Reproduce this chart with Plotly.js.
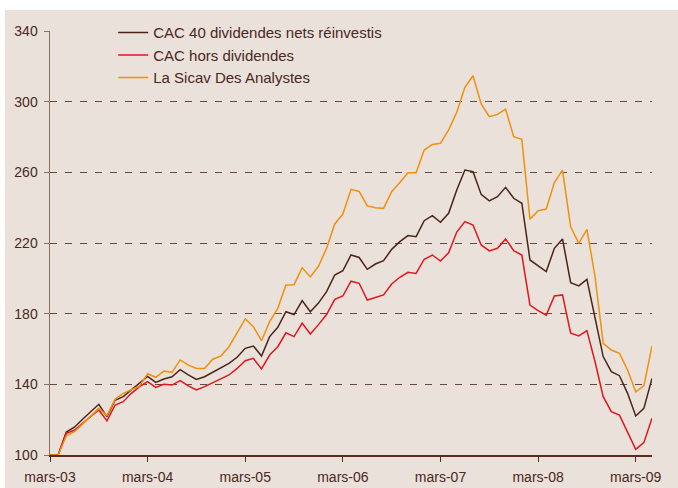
<!DOCTYPE html>
<html>
<head>
<meta charset="utf-8">
<script src="https://cdn.plot.ly/plotly-3.0.1.min.js"></script>
<style>
  html, body { margin: 0; padding: 0; background: #ffffff; width: 678px; height: 488px; overflow: hidden; }
  #chart { position: absolute; left: 5px; top: 10px; width: 673px; height: 478px; }
</style>
</head>
<body>
<div id="chart"></div>
<script>
// Month names (French, Excel style) and the span of the series
const monthNames = ["janv.", "févr.", "mars", "avr.", "mai", "juin", "juil.", "août", "sept.", "oct.", "nov.", "déc."];
const startYear = 2003, startMonth = 2, nMonths = 75; // mars-03 .. mai-09
const categories = [];
for (let i = 0; i < nMonths; i++) {
  const m = (startMonth + i) % 12;
  const y = startYear + Math.floor((startMonth + i) / 12);
  categories.push(monthNames[m] + "-" + String(y % 100).padStart(2, "0"));
}
const tickLabels = ["mars-03", "mars-04", "mars-05", "mars-06", "mars-07", "mars-08", "mars-09"];
const yTicks = [100, 140, 180, 220, 260, 300, 340];

const seriesNames = ["CAC 40 dividendes nets réinvestis", "CAC hors dividendes", "La Sicav Des Analystes"];

const cacDividendes = [
  100, 100, 113, 115.7, 120.2, 124.3, 128.7, 121.7, 131, 133, 137, 140.6,
  144.5, 141.1, 143, 144.3, 148.3, 145.3, 142.8, 144.3, 146.8, 149, 151.9, 155.3,
  160.4, 161.7, 156, 167, 172.3, 181.1, 179.5, 187.4, 181.1, 186, 192.5, 201.9,
  204.3, 213.2, 211.8, 205.1, 208.1, 210, 216.4, 220.8, 224.2, 223.6, 232.6, 235.5,
  231.7, 236.8, 250, 261.3, 260.4, 247.5, 243.8, 246.2, 251.5, 245.3, 242.5, 210.4,
  207.2, 203.8, 217, 222.3, 197.5, 195.7, 199.4, 178.3, 155.7, 147.2, 144.9, 134.9,
  122.1, 126.4, 143.4
];
const cacHorsDividendes = [
  100, 100, 112.3, 114, 118, 121.7, 125.5, 119.3, 128.3, 130.2, 134.9, 138.7,
  141.5, 138.3, 140, 139.6, 142.1, 139.1, 136.8, 138.7, 140.9, 142.8, 145.3, 149,
  153.4, 154.7, 148.7, 156.6, 161.3, 169.2, 167, 174.7, 168.5, 173.8, 179.5, 188.1,
  190, 198.4, 197.2, 187.7, 189.2, 190.6, 196.8, 200.6, 203.4, 202.8, 210.8, 213.2,
  209.8, 214.5, 226.2, 232.1, 230.2, 218.9, 215.5, 217, 222.3, 215.7, 213.2, 184.9,
  181.7, 179.2, 190, 190.6, 168.9, 167.4, 170.4, 152.8, 133, 124.5, 122.6, 113.2,
  103.2, 107, 120.8
];
const sicavAnalystes = [
  100, 100, 110.8, 113.2, 117.5, 122, 126.4, 122.3, 131.5, 134.9, 137, 139,
  146, 144, 147.5, 146.8, 153.8, 150.9, 149, 149, 154.2, 156, 161.3, 168.9,
  177, 172.6, 164.7, 175.5, 183, 196.2, 196.4, 206, 200.8, 206.8, 217, 230.8,
  236.4, 250.4, 249.2, 241, 240, 239.6, 249, 254.3, 259.8, 259.8, 272.6, 275.8,
  276.4, 284, 294, 308.1, 314.7, 298.7, 291.5, 292.8, 295.8, 280.2, 278.7, 233.4,
  238.3, 239.2, 254.2, 261.3, 229.2, 219.8, 227.7, 200.9, 163.2, 159.4, 157.5, 148.1,
  135.8, 139.1, 161.7
];

const colors = ["#4b2417", "#e2161c", "#f0900e"];
const values = [cacDividendes, cacHorsDividendes, sicavAnalystes];

const traces = values.map((v, k) => ({
  type: "scatter",
  mode: "lines",
  name: seriesNames[k],
  x: categories,
  y: v,
  line: { color: colors[k], width: 1.5 },
  hoverinfo: "x+y+name"
}));

const textColor = "#4a281d";
const bg = "#ebe1db";

const layout = {
  width: 673,
  height: 478,
  paper_bgcolor: bg,
  plot_bgcolor: bg,
  margin: { l: 45, r: 26, t: 21, b: 33, pad: 0, autoexpand: false },
  font: { family: "Liberation Sans, Arial, sans-serif", size: 14, color: textColor },
  showlegend: true,
  legend: {
    x: 0.105, y: 1.035, xanchor: "left", yanchor: "top",
    bgcolor: bg, borderwidth: 0,
    font: { size: 15, color: textColor },
    tracegroupgap: 0,
    itemwidth: 30
  },
  xaxis: {
    type: "category",
    range: [0, nMonths - 1],
    tickmode: "array",
    tickvals: tickLabels,
    ticktext: tickLabels,
    ticks: "outside",
    ticklen: 5,
    tickwidth: 1,
    tickcolor: "#5a2a1c",
    showline: true,
    linecolor: "#5a2a1c",
    linewidth: 1.5,
    showgrid: false,
    zeroline: false,
    ticklabelstandoff: 4,
    tickfont: { size: 14, color: textColor },
    fixedrange: true
  },
  yaxis: {
    range: [100, 340],
    tickmode: "array",
    tickvals: yTicks,
    ticks: "outside",
    ticklen: 5,
    tickwidth: 1,
    tickcolor: "#8a6e62",
    showline: true,
    linecolor: "#8a6e62",
    linewidth: 1.5,
    showgrid: true,
    gridcolor: "#6a4a3e",
    gridwidth: 1,
    griddash: "7px,8px",
    zeroline: false,
    ticklabelstandoff: 3,
    tickfont: { size: 14, color: textColor },
    fixedrange: true
  }
};

Plotly.newPlot("chart", traces, layout, { displayModeBar: false, staticPlot: true });
</script>
</body>
</html>
